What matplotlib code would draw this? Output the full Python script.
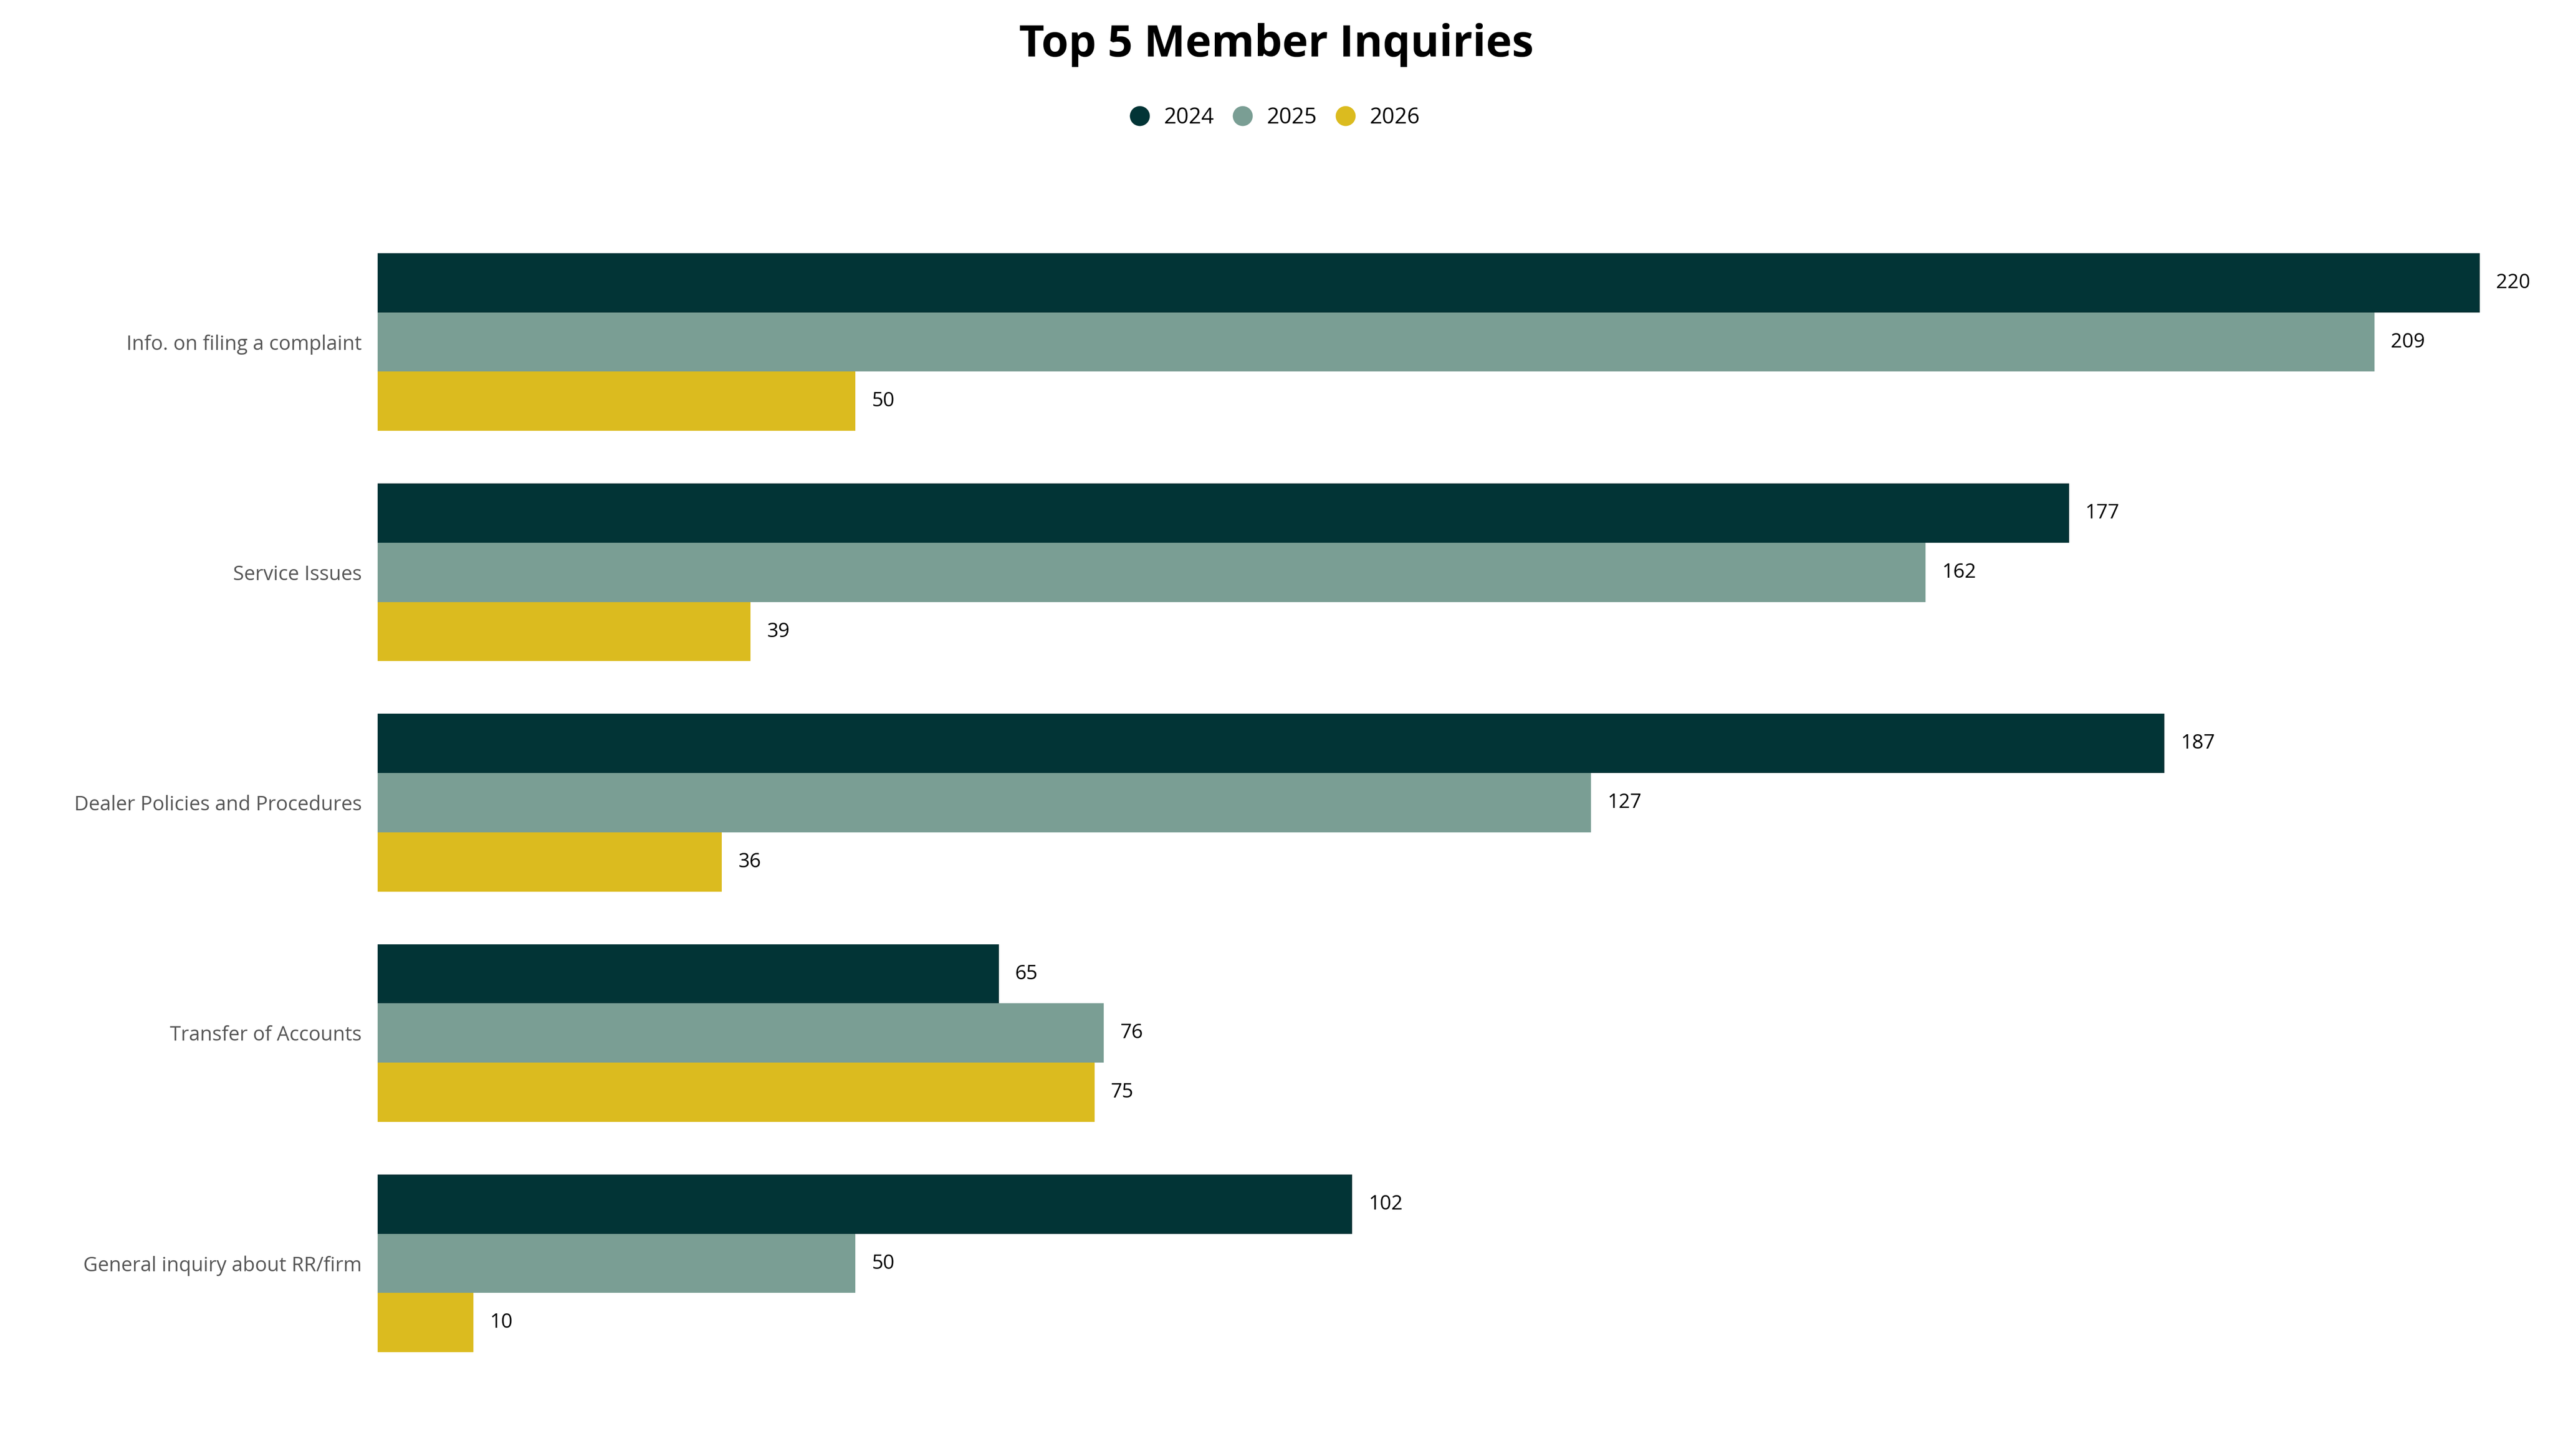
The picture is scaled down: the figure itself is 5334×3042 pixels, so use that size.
import numpy as np
import matplotlib.pyplot as plt
from matplotlib.lines import Line2D

# data
categories = ['Info. on filing a complaint', 'Service Issues', 'Dealer Policies and Procedures',
              'Transfer of Accounts', 'General inquiry about RR/firm']
years = ['2024', '2025', '2026']
v2024 = [220, 177, 187, 65, 102]
v2025 = [209, 162, 127, 76, 50]
v2026 = [50, 39, 36, 75, 10]
colors = ['#023436', '#7a9e94', '#dbbb1f']

plt.rcParams['font.family'] = ['Open Sans', 'DejaVu Sans']

fig = plt.figure(figsize=(5334 / 300, 3042 / 300), dpi=300)
ax = fig.add_axes([0.148, 0.0554, 0.842, 0.7866])

h = 36 / 140
y = np.arange(len(categories))
for i, vals in enumerate([v2024, v2025, v2026]):
    pos = y + (i - 1) * h
    ax.barh(pos, vals, height=h, color=colors[i])
    for p, v in zip(pos, vals):
        ax.text(v + 1.7, p, str(v), va='center', ha='left', fontsize=10, color='black')

ax.set_xlim(0, 225)
ax.set_ylim(len(categories) - 0.514, -0.486)
ax.set_yticks(y)
ax.set_yticklabels(categories, fontsize=10, color='#555555')
ax.tick_params(axis='y', length=0, pad=8)
ax.set_xticks([])
for s in ax.spines.values():
    s.set_visible(False)

fig.text(0.5, 0.969, 'Top 5 Member Inquiries', ha='center', va='center',
         fontsize=22, fontweight='bold')
handles = [Line2D([], [], marker='o', linestyle='', color=c, markersize=9) for c in colors]
fig.legend(handles, years, loc='center', bbox_to_anchor=(0.497, 0.919), ncol=3, frameon=False,
           fontsize=11, handletextpad=0.1, columnspacing=0.3)

fig.savefig('out.png', dpi=300)
